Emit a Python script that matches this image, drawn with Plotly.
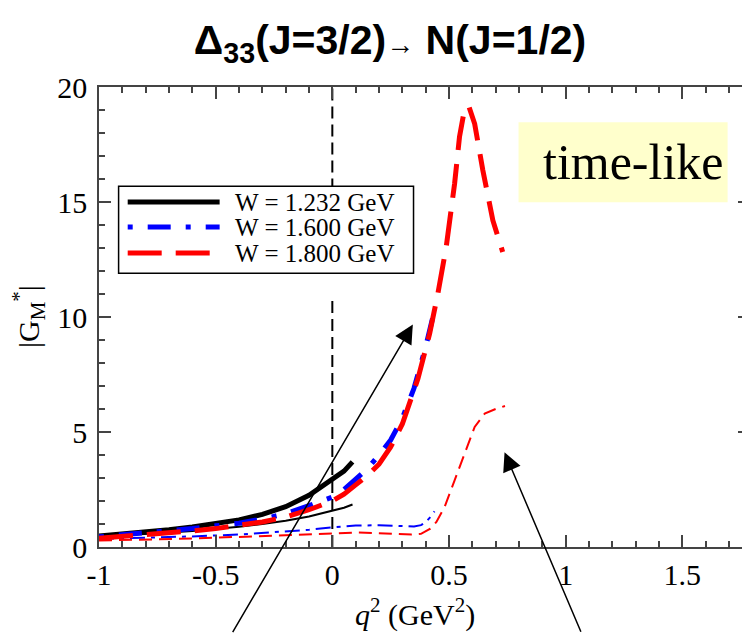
import plotly.graph_objects as go

# ---------------- data ----------------
x_black = [-1.0, -0.9, -0.8, -0.7, -0.6, -0.5, -0.4, -0.3, -0.2, -0.1, 0.0, 0.05, 0.0865]
y_black_thick = [0.48, 0.56, 0.65, 0.75, 0.87, 1.0, 1.18, 1.42, 1.75, 2.25, 2.92, 3.3, 3.7]
y_black_thin = [0.45, 0.5, 0.56, 0.63, 0.7, 0.78, 0.88, 1.0, 1.14, 1.33, 1.57, 1.71, 1.85]

x_blue = [-1.0, -0.8, -0.6, -0.5, -0.4, -0.3, -0.2, -0.1, 0.0, 0.05, 0.1, 0.15, 0.2, 0.25, 0.3, 0.35, 0.4, 0.438]
y_blue_thick = [0.44, 0.6, 0.8, 0.92, 1.03, 1.22, 1.45, 1.8, 2.17, 2.5, 2.95, 3.4, 4.0, 4.65, 5.6, 6.9, 8.7, 10.3]

x_blue_thin = [-1.0, -0.8, -0.6, -0.4, -0.2, -0.1, 0.0, 0.1, 0.2, 0.3, 0.35, 0.38, 0.4, 0.42, 0.438]
y_blue_thin = [0.35, 0.4, 0.46, 0.54, 0.66, 0.75, 0.86, 0.93, 0.95, 0.9, 0.89, 0.95, 1.08, 1.3, 1.55]

x_red = [-1.0, -0.8, -0.6, -0.5, -0.4, -0.3, -0.2, -0.1, 0.0, 0.05, 0.1, 0.15, 0.2, 0.25, 0.3, 0.338,
         0.367, 0.417, 0.452, 0.488, 0.524, 0.545, 0.567, 0.585, 0.61, 0.645, 0.688, 0.73]
y_red_thick = [0.38, 0.52, 0.7, 0.8, 0.92, 1.09, 1.3, 1.62, 2.0, 2.3, 2.7, 3.1, 3.6, 4.35, 5.35, 6.38,
               7.32, 9.28, 11.0, 13.04, 15.8, 17.83, 19.06, 19.16, 18.4, 16.38, 14.2, 12.83]

x_red_thin = [-1.0, -0.8, -0.6, -0.4, -0.2, 0.0, 0.1, 0.2, 0.3, 0.34, 0.38, 0.42, 0.446, 0.481,
              0.524, 0.567, 0.61, 0.653, 0.7, 0.74]
y_red_thin = [0.28, 0.32, 0.37, 0.44, 0.52, 0.62, 0.63, 0.6, 0.55, 0.54, 0.57, 0.8, 1.09, 1.74,
              2.9, 4.06, 5.22, 5.8, 6.0, 6.13]

legend_labels = ["W = 1.232 GeV", "W = 1.600 GeV", "W = 1.800 GeV"]
x_tickvals = [-1, -0.5, 0, 0.5, 1, 1.5]
x_ticktext = ["-1", "-0.5", "0", "0.5", "1", "1.5"]
y_tickvals = [0, 5, 10, 15, 20]
y_ticktext = ["0", "5", "10", "15", "20"]

BLACK, BLUE, RED = "#000000", "#0000ff", "#ff0000"
DASH_BLUE_THICK = "5px,15px,23px,15px"
DASH_RED_THICK = "34px,14px"
DASH_BLUE_THIN = "15px,6px,4px,6px"
DASH_RED_THIN = "13px,7px"
SERIF = "Liberation Serif, Times New Roman, serif"

W, H = 750, 633
OFF = 8  # page offset of the figure inside the browser window

fig = go.Figure()

# vertical dashed line at q^2 = 0
fig.add_trace(go.Scatter(x=[0, 0, None, 0, 0], y=[0, 10.9, None, 15.5, 20], mode="lines",
                         line=dict(color="black", width=2, dash="12px,6px"),
                         showlegend=False, hoverinfo="skip"))

# thin curves
fig.add_trace(go.Scatter(x=x_black, y=y_black_thin, mode="lines", line=dict(color=BLACK, width=2),
                         showlegend=False))
fig.add_trace(go.Scatter(x=x_blue_thin, y=y_blue_thin, mode="lines",
                         line=dict(color=BLUE, width=2, dash=DASH_BLUE_THIN), showlegend=False))
fig.add_trace(go.Scatter(x=x_red_thin, y=y_red_thin, mode="lines",
                         line=dict(color=RED, width=2, dash=DASH_RED_THIN), showlegend=False))
# thick curves
fig.add_trace(go.Scatter(x=x_black, y=y_black_thick, mode="lines", line=dict(color=BLACK, width=5),
                         showlegend=False))
fig.add_trace(go.Scatter(x=x_blue, y=y_blue_thick, mode="lines",
                         line=dict(color=BLUE, width=5, dash=DASH_BLUE_THICK), showlegend=False))
fig.add_trace(go.Scatter(x=x_red, y=y_red_thick, mode="lines",
                         line=dict(color=RED, width=5, dash=DASH_RED_THICK), showlegend=False))

shapes = []
# "time-like" box
shapes.append(dict(type="rect", xref="x", yref="y", x0=0.798, x1=1.694, y0=14.99, y1=18.47,
                   fillcolor="#ffffcc", line=dict(width=0), layer="below"))
# legend box
shapes.append(dict(type="rect", xref="x", yref="y", x0=-0.916, x1=0.348, y0=11.9, y1=15.68,
                   fillcolor="white", line=dict(color="black", width=1.5), layer="above"))
leg_y = [15.0, 13.91, 12.78]
leg_styles = [dict(color=BLACK, width=5), dict(color=BLUE, width=5, dash=DASH_BLUE_THICK),
              dict(color=RED, width=5, dash=DASH_RED_THICK)]
annotations = []
for yy, st, lab in zip(leg_y, leg_styles, legend_labels):
    shapes.append(dict(type="line", xref="x", yref="y", x0=-0.877, x1=-0.483, y0=yy, y1=yy,
                       line=st, layer="above"))
    annotations.append(dict(x=-0.427, y=yy, xref="x", yref="y", text=lab, showarrow=False,
                            xanchor="left", yanchor="middle", font=dict(family=SERIF, size=25, color="black")))

annotations.append(dict(x=1.289, y=16.73, xref="x", yref="y", text="time-like", showarrow=False,
                        xanchor="center", yanchor="middle", font=dict(family=SERIF, size=50, color="black")))
# arrows
annotations.append(dict(x=0.345, y=9.67, xref="x", yref="y", text="", showarrow=True,
                        ax=-181, ay=309, arrowhead=2, arrowsize=2.5, arrowwidth=1.5,
                        arrowcolor="black", standoff=0))
annotations.append(dict(x=0.738, y=4.12, xref="x", yref="y", text="", showarrow=True,
                        ax=77, ay=181, arrowhead=2, arrowsize=2.5, arrowwidth=1.5,
                        arrowcolor="black", standoff=0))
# axis titles
annotations.append(dict(x=0.485, y=-0.142, xref="paper", yref="paper",
                        text="<i>q</i><sup>2</sup> (GeV<sup>2</sup>)", showarrow=False,
                        xanchor="center", yanchor="middle", font=dict(family=SERIF, size=30, color="black")))
annotations.append(dict(x=-0.109, y=0.5, xref="paper", yref="paper", textangle=-90,
                        text="|G<sub>M</sub><sup>*</sup>|", showarrow=False,
                        xanchor="center", yanchor="middle", font=dict(family=SERIF, size=30, color="black")))

axis_common = dict(showline=True, linecolor="#444", linewidth=1.5, mirror="ticks", ticks="inside",
                   tickcolor="#444", tickwidth=1.5, ticklen=12, showgrid=False, zeroline=False,
                   automargin=False, tickfont=dict(family=SERIF, size=30, color="black"))

fig.update_layout(
    width=W, height=H, plot_bgcolor="white", paper_bgcolor="white",
    margin=dict(l=99 - OFF, r=OFF, t=87 - OFF, b=H - 547 + OFF),
    title=dict(text="<b>Δ<sub>33</sub>(J=3/2)<span style='font-size:28px'>→</span> N(J=1/2)</b>",
               x=(390 - OFF) / W, xanchor="center", xref="container",
               y=1 - (40 - OFF) / H, yanchor="middle", yref="container",
               font=dict(family="Liberation Sans, Arial, sans-serif", size=41, color="black")),
    xaxis=dict(range=[-1, 1.79], tickmode="array", tickvals=x_tickvals, ticktext=x_ticktext,
               minor=dict(dtick=0.1, tick0=-1, ticks="inside", ticklen=6, tickcolor="#444", tickwidth=1.5),
               **axis_common),
    yaxis=dict(range=[0, 20], tickmode="array", tickvals=y_tickvals, ticktext=y_ticktext,
               ticklabelstandoff=4,
               minor=dict(dtick=1, tick0=0, ticks="inside", ticklen=6, tickcolor="#444", tickwidth=1.5),
               **axis_common),
    shapes=shapes, annotations=annotations, showlegend=False,
)

fig.write_html("out.html")
